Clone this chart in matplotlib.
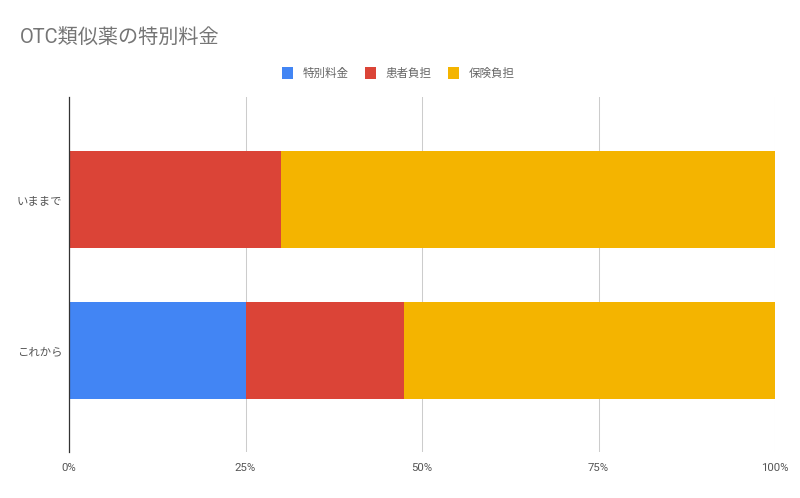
import matplotlib
matplotlib.use("Agg")
import matplotlib.pyplot as plt
from matplotlib.patches import Patch
from matplotlib.ticker import FuncFormatter

plt.rcParams['font.family'] = ['Roboto', 'Noto Sans CJK JP', 'DejaVu Sans']

categories = ["いままで", "これから"]
series_names = ["特別料金", "患者負担", "保険負担"]
special_fee = [0, 25]
patient_share = [30, 22.5]
insurance_share = [70, 52.5]
colors = ["#4285F4", "#DB4437", "#F4B400"]
title = "OTC類似薬の特別料金"

fig = plt.figure(figsize=(8, 4.98), dpi=100)
ax = fig.add_axes([69/800, 46/498, (775-69)/800, (452-97)/498])

series = [special_fee, patient_share, insurance_share]
y = list(range(len(categories)))
left = [0.0] * len(categories)
total = [a + b + c for a, b, c in zip(*series)]
for vals, col, name in zip(series, colors, series_names):
    frac = [v / t for v, t in zip(vals, total)]
    ax.barh(y, frac, left=left, height=0.64, color=col, label=name, zorder=3)
    left = [l + f for l, f in zip(left, frac)]

ax.set_ylim(1.67, -0.68)
ax.set_xlim(0, 1)
ax.set_yticks(y)
ax.set_yticklabels(categories)
ax.set_xticks([0, 0.25, 0.5, 0.75, 1.0])
ax.xaxis.set_major_formatter(FuncFormatter(lambda v, p: f"{int(round(v*100))}%"))
ax.grid(axis='x', color='#cccccc', linewidth=0.75, zorder=0)
for s in ['top', 'right', 'bottom']:
    ax.spines[s].set_visible(False)
ax.spines['left'].set_color('#333333')
ax.spines['left'].set_linewidth(0.9)
ax.spines['left'].set_zorder(4)
ax.tick_params(axis='both', length=0, labelsize=8.2, labelcolor='#555555')
ax.tick_params(axis='x', pad=8)
ax.tick_params(axis='y', pad=5)

fig.text(20/800, 1 - 38/498, title, fontsize=14.5, color='#757575', va='center', ha='left')

handles = [Patch(facecolor=c, edgecolor='none', label=n) for c, n in zip(colors, series_names)]
fig.legend(handles=handles, loc='center', bbox_to_anchor=(398/800, 1 - 73/498), ncol=3,
           frameon=False, fontsize=8.3, labelcolor='#666666', handlelength=1.0, handleheight=1.2,
           handletextpad=0.8, columnspacing=1.4)

fig.savefig("out.png", dpi=100)
